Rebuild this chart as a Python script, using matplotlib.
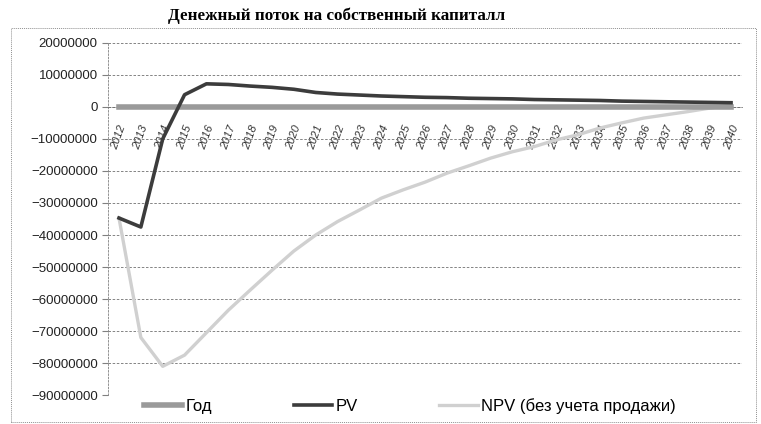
import matplotlib.pyplot as plt
from matplotlib.patches import Rectangle
from matplotlib.ticker import MultipleLocator, StrMethodFormatter

years = list(range(2012, 2041))
year_labels = [str(y) for y in years]

# Год series is the year itself (sits on the zero line at this scale)
god = years
pv = [-34.7e6, -37.5e6, -10.0e6, 3.8e6, 7.2e6, 7.0e6, 6.5e6, 6.1e6, 5.5e6, 4.5e6,
      4.0e6, 3.7e6, 3.4e6, 3.2e6, 3.0e6, 2.9e6, 2.7e6, 2.6e6, 2.5e6, 2.3e6,
      2.2e6, 2.1e6, 2.0e6, 1.8e6, 1.7e6, 1.6e6, 1.5e6, 1.4e6, 1.3e6]
npv = [-34.7e6, -72.0e6, -81.0e6, -77.5e6, -70.5e6, -63.5e6, -57.2e6, -51.0e6, -45.0e6, -40.0e6,
       -35.8e6, -32.2e6, -28.5e6, -25.9e6, -23.5e6, -20.7e6, -18.4e6, -16.0e6, -14.0e6, -12.4e6,
       -10.3e6, -8.7e6, -6.6e6, -5.0e6, -3.5e6, -2.5e6, -1.5e6, -0.4e6, 0.6e6]

plt.rcParams['font.family'] = ['Liberation Sans', 'DejaVu Sans']

fig = plt.figure(figsize=(7.61, 4.24), dpi=100)
ax = fig.add_axes([0.142, 0.068, 0.833, 0.831])

x = range(len(years))
ax.plot(x, god, color='#9a9a9a', lw=4, label='Год', zorder=3)
ax.plot(x, pv, color='#3c3c3c', lw=2.6, label='PV', zorder=4)
ax.plot(x, npv, color='#d0d0d0', lw=2.4, label='NPV (без учета продажи)', zorder=2)

ax.set_xlim(-0.5, len(years) - 0.5)
ax.set_ylim(-90e6, 20e6)
ax.yaxis.set_major_locator(MultipleLocator(10e6))
ax.yaxis.set_major_formatter(StrMethodFormatter('{x:.0f}'))
ax.tick_params(axis='y', labelsize=9.5, length=4, color='#808080', labelcolor='#222222')
ax.grid(axis='y', ls='--', color='#707070', lw=0.6, dashes=(3, 2))
ax.set_axisbelow(True)

for s in ['top', 'right']:
    ax.spines[s].set_visible(False)
ax.spines['left'].set_linestyle((0, (2, 2)))
ax.spines['left'].set_color('#808080')
ax.spines['left'].set_linewidth(0.6)
ax.spines['bottom'].set_position(('data', 0))
ax.spines['bottom'].set_linestyle((0, (3, 2)))
ax.spines['bottom'].set_color('#707070')
ax.spines['bottom'].set_linewidth(0.6)

ax.set_xticks(list(x))
ax.set_xticklabels(year_labels, rotation=70, ha='center', va='top', fontsize=8,
                   color='#333333', style='italic')
ax.tick_params(axis='x', length=0, pad=12)

fig.text(0.442, 0.962, 'Денежный поток на собственный капиталл', ha='center', va='center',
         fontsize=12.3, fontweight='bold', family='Liberation Serif')

ax.legend(loc='center', bbox_to_anchor=(0.476, -0.03), ncol=3, frameon=False,
          fontsize=12, handlelength=2.3, columnspacing=4.9, handletextpad=0.2)

fig.patches.append(Rectangle((0.014, 0.005), 0.98, 0.93, transform=fig.transFigure,
                             fill=False, ls=(0, (1, 1)), lw=0.7, ec='#909090'))

fig.savefig('out.png', dpi=100)
